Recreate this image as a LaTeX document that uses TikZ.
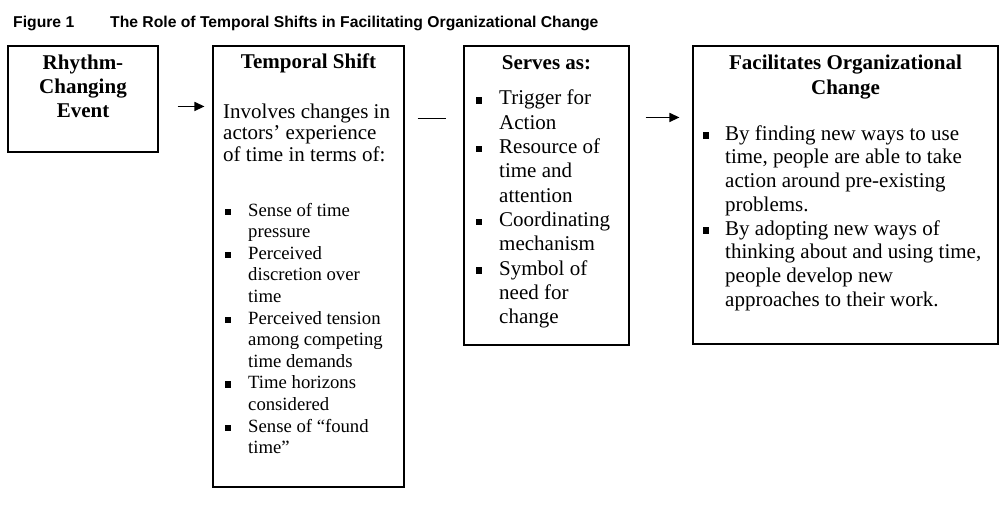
\documentclass[tikz,border=0pt]{standalone}
\usepackage{fontspec}
\setmainfont{Liberation Serif}
\newfontfamily\titlefont{Liberation Sans}
\usetikzlibrary{arrows.meta}

% square bullet, raised to the middle of the x-height
\newcommand\sqbul[1]{\rule[#1]{6pt}{6.5pt}}

\tikzset{
  panel/.style={draw, line width=1.1pt, inner sep=0pt},
  txt/.style={inner sep=0pt, anchor=base west},
  head/.style={inner sep=0pt, anchor=base, font=\fontsize{21}{24}\selectfont\bfseries},
  body/.style={font=\fontsize{21}{24.3}\selectfont},
  caption/.style={txt, font=\titlefont\bfseries\fontsize{15.7}{18}\selectfont},
  flow/.style={line width=1.4pt, -{Triangle[length=10pt,width=9pt]}},
  link/.style={line width=1.2pt},
}

\begin{document}
\begin{tikzpicture}[x=1pt, y=-1pt]
\useasboundingbox (0,0) rectangle (1008,508);

% caption
\node[caption] (fig) at (13,28) {Figure 1};
\node[caption] (ttl) at (110,28)
  {The Role of Temporal Shifts in Facilitating Organizational Change};

% the four panels
\node[panel, minimum width=150pt, minimum height=106pt] (b1) at (83,99) {};
\node[panel, minimum width=191pt, minimum height=441pt] (b2) at (308.5,266.5) {};
\node[panel, minimum width=165pt, minimum height=299pt] (b3) at (546.5,195.5) {};
\node[panel, minimum width=305pt, minimum height=298pt] (b4) at (845.5,195) {};

% panel 1
\node[head] (h1) at (83,70)
  {\begin{tabular}[t]{@{}c@{}}Rhythm-\\Changing\\Event\end{tabular}};

% panel 2
\node[head] (h2) at (308.5,69) {Temporal Shift};
\node[txt, font=\fontsize{21}{21.7}\selectfont] (p2) at (223,118)
  {\begin{tabular}[t]{@{}l@{}}Involves changes in\\actors’ experience\\of time in terms of:\end{tabular}};
\node[txt, font=\fontsize{18.7}{21.6}\selectfont] (l2) at (225,216)
  {\begin{tabular}[t]{@{}p{23pt}@{}l@{}}
   \sqbul{1pt} & Sense of time\\
               & pressure\\
   \sqbul{1pt} & Perceived\\
               & discretion over\\
               & time\\
   \sqbul{1pt} & Perceived tension\\
               & among competing\\
               & time demands\\
   \sqbul{1pt} & Time horizons\\
               & considered\\
   \sqbul{1pt} & Sense of “found\\
               & time”
  \end{tabular}};

% panel 3
\node[head] (h3) at (546.5,70) {Serves as:};
\node[txt, body] (l3) at (476,105)
  {\begin{tabular}[t]{@{}p{23pt}@{}l@{}}
   \sqbul{1.5pt} & Trigger for\\
                 & Action\\
   \sqbul{1.5pt} & Resource of\\
                 & time and\\
                 & attention\\
   \sqbul{1.5pt} & Coordinating\\
                 & mechanism\\
   \sqbul{1.5pt} & Symbol of\\
                 & need for\\
                 & change
  \end{tabular}};

% panel 4
\node[head, font=\fontsize{21}{25}\selectfont\bfseries] (h4) at (845.5,70)
  {\begin{tabular}[t]{@{}c@{}}Facilitates Organizational\\Change\end{tabular}};
\node[txt, font=\fontsize{21}{23.75}\selectfont] (l4) at (703,140)
  {\begin{tabular}[t]{@{}p{22pt}@{}l@{}}
   \sqbul{1.5pt} & By finding new ways to use\\
                 & time, people are able to take\\
                 & action around pre-existing\\
                 & problems.\\
   \sqbul{1.5pt} & By adopting new ways of\\
                 & thinking about and using time,\\
                 & people develop new\\
                 & approaches to their work.
  \end{tabular}};

% connectors between the panels
\coordinate (b2in) at ([xshift=-8pt]b2.west);
\coordinate (b3in) at ([xshift=-17pt]b3.west);
\coordinate (b4in) at ([xshift=-13pt]b4.west);
\draw[flow] ([shift={(19,61)}]b1.north east) coordinate (a1) -- (a1 -| b2in);
\draw[link] ([shift={(13,73)}]b2.north east) coordinate (a2) -- (a2 -| b3in);
\draw[flow] ([shift={(16,72)}]b3.north east) coordinate (a3) -- (a3 -| b4in);
\end{tikzpicture}
\end{document}
